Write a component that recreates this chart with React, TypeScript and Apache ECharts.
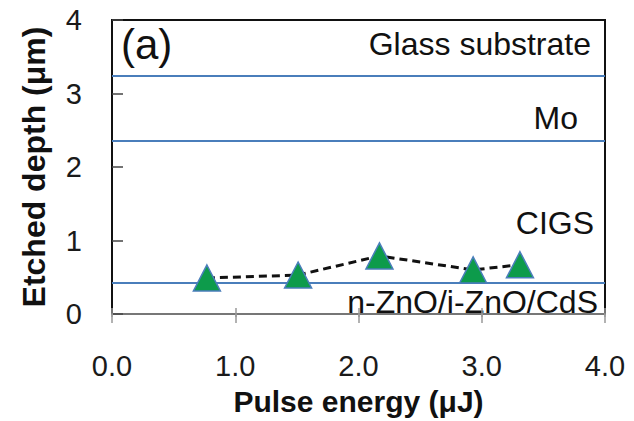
import React, { useEffect, useRef } from "react";
import * as echarts from "echarts";

const pulseEnergy = [0.77, 1.51, 2.17, 2.93, 3.31];
const etchedDepth = [0.49, 0.53, 0.79, 0.6, 0.67];
const layerBoundaries = [3.24, 2.36, 0.42];
const layerNames = ["Glass substrate", "Mo", "CIGS", "n-ZnO/i-ZnO/CdS"];
const xTicks = [0, 1, 2, 3, 4];

const FONT = "'Liberation Sans', Arial, sans-serif";

export default function App() {
  const ref = useRef<HTMLDivElement>(null);
  useEffect(() => {
    document.body.style.margin = "0";
    const chart = echarts.init(ref.current!, null, { renderer: "svg" });
    const xCommon = {
      type: "value" as const,
      min: xTicks[0],
      max: xTicks[xTicks.length - 1],
      interval: 1,
      position: "bottom" as const,
      offset: 3,
      splitLine: { show: false },
    };
    const layerStyle = { fontSize: 32, fontFamily: FONT, fill: "#111", align: "right" as const, verticalAlign: "middle" as const };
    chart.setOption({
      animation: false,
      backgroundColor: "#ffffff",
      textStyle: { fontFamily: FONT },
      grid: {
        left: 112,
        right: 29,
        top: 20,
        bottom: 105,
        show: true,
        borderColor: "#111",
        borderWidth: 2,
        backgroundColor: "transparent",
      },
      xAxis: [
        {
          ...xCommon,
          axisLine: { show: true, lineStyle: { color: "#999", width: 1.5 } },
          axisTick: { show: true, inside: false, length: 9, lineStyle: { color: "#999", width: 1.5 } },
          axisLabel: {
            show: true,
            margin: 34,
            fontSize: 29,
            color: "#1a1a1a",
            fontFamily: FONT,
            formatter: (v: number) => v.toFixed(1),
          },
          name: "Pulse energy (μJ)",
          nameLocation: "middle",
          nameGap: 69,
          nameTextStyle: { fontSize: 30, fontWeight: "bold", color: "#111", fontFamily: FONT },
        },
        {
          ...xCommon,
          axisLine: { show: false },
          axisTick: { show: true, inside: true, length: 9, lineStyle: { color: "#999", width: 1.5 } },
          axisLabel: { show: false },
        },
      ],
      yAxis: {
        type: "value",
        min: 0,
        max: 4,
        interval: 1,
        axisLine: { show: false },
        axisTick: { show: true, inside: true, length: 11, lineStyle: { color: "#444", width: 1.5 } },
        splitLine: { show: false },
        axisLabel: { margin: 30, fontSize: 29, color: "#1a1a1a", fontFamily: FONT },
        name: "Etched depth (μm)",
        nameLocation: "middle",
        nameRotate: 90,
        nameGap: 62,
        nameTextStyle: { fontSize: 32, fontWeight: "bold", color: "#111", fontFamily: FONT },
      },
      series: [
        {
          type: "line",
          xAxisIndex: 0,
          data: pulseEnergy.map((x, i) => [x, etchedDepth[i]]),
          symbol: "triangle",
          symbolSize: [27, 26],
          itemStyle: { color: "#0d9b4b", borderColor: "#4a7ebb", borderWidth: 1.5 },
          lineStyle: { color: "#111", width: 3, type: [8, 5] },
          z: 5,
          markLine: {
            silent: true,
            symbol: "none",
            label: { show: false },
            lineStyle: { color: "#4a7ebb", width: 2, type: "solid" },
            data: layerBoundaries.map((v) => ({ yAxis: v })),
            z: 3,
          },
        },
      ],
      graphic: [
        { type: "text", left: 121, top: 23, style: { text: "(a)", fontSize: 42, fontFamily: FONT, fill: "#111" } },
        { type: "text", x: 591, y: 44, style: { ...layerStyle, text: layerNames[0] } },
        { type: "text", x: 578, y: 118, style: { ...layerStyle, text: layerNames[1] } },
        { type: "text", x: 594, y: 223, style: { ...layerStyle, text: layerNames[2] } },
        { type: "text", x: 598, y: 302, style: { ...layerStyle, text: layerNames[3] } },
      ],
    });
    return () => chart.dispose();
  }, []);
  return <div ref={ref} style={{ width: 634, height: 421 }} />;
}
